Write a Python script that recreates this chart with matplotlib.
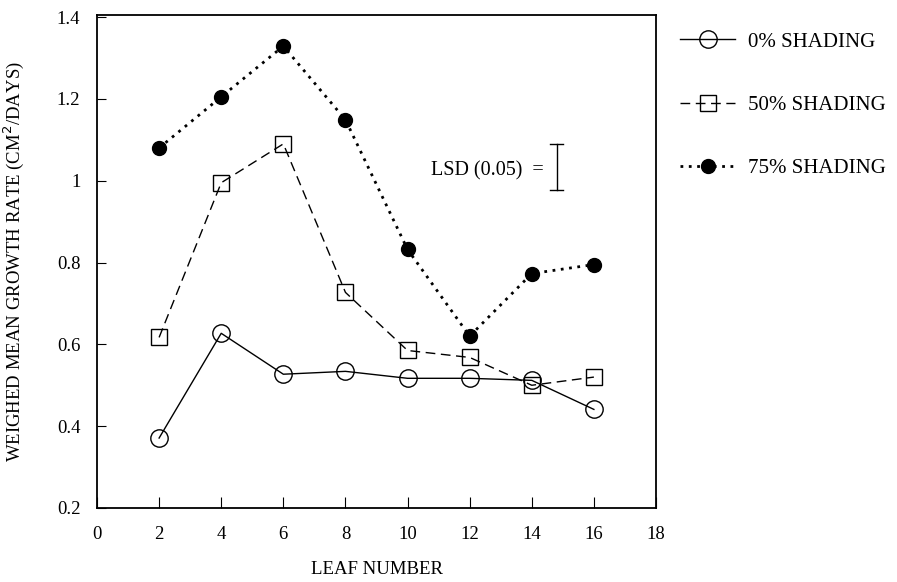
import numpy as np
import matplotlib.pyplot as plt

plt.rcParams['font.family'] = ['Liberation Serif', 'DejaVu Serif']

# Dati
leaf = [2, 4, 6, 8, 10, 12, 14, 16]
shade_0 = [0.371, 0.627, 0.527, 0.534, 0.517, 0.517, 0.512, 0.441]
shade_50 = [0.617, 0.995, 1.090, 0.727, 0.585, 0.568, 0.500, 0.520]
shade_75 = [1.080, 1.205, 1.329, 1.149, 0.832, 0.620, 0.773, 0.795]
labels = ['0% SHADING', '50% SHADING', '75% SHADING']

lsd_x = 14.8
lsd_low = 0.978
lsd_high = 1.090

xticks = list(range(0, 19, 2))
yticks = [0.2, 0.4, 0.6, 0.8, 1.0, 1.2, 1.4]
ytick_labels = ['0.2', '0.4', '0.6', '0.8', '1', '1.2', '1.4']

fig = plt.figure(figsize=(8.97, 5.82), dpi=100)
ax = fig.add_axes([97 / 897, 74 / 582, 559 / 897, 493 / 582])

ax.plot(leaf, shade_0, '-', color='black', lw=1, marker='o', ms=12.5,
        mfc='none', mec='black', mew=1, label=labels[0])
ax.plot(leaf, shade_50, color='black', lw=1, ls=(0, (7, 4)), marker='s', ms=11.5,
        mfc='none', mec='black', mew=1, label=labels[1])
ax.plot(leaf, shade_75, color='black', lw=2, ls=(0, (1, 2)), marker='o', ms=10,
        mfc='black', mec='black', label=labels[2])

# barra LSD
ax.plot([lsd_x, lsd_x], [lsd_low, lsd_high], color='black', lw=1)
ax.plot([lsd_x - 0.2, lsd_x + 0.2], [lsd_low, lsd_low], color='black', lw=1)
ax.plot([lsd_x - 0.2, lsd_x + 0.2], [lsd_high, lsd_high], color='black', lw=1)
ax.text(lsd_x - 0.4, (lsd_low + lsd_high) / 2 - 0.01, 'LSD (0.05)  =', ha='right',
        va='center', fontsize=14.5)

ax.set_xlim(0, 17.9)
ax.set_ylim(0.2, 1.405)
ax.set_xticks(xticks)
ax.set_yticks(yticks)
ax.set_yticklabels(ytick_labels)
ax.tick_params(direction='in', labelsize=13.5, top=False, right=False)
ax.tick_params(axis='x', length=8, pad=13)
ax.tick_params(axis='y', length=6.5, pad=12)
for s in ax.spines.values():
    s.set_linewidth(1.3)

ax.set_xlabel('LEAF NUMBER', fontsize=13.5)
ax.xaxis.set_label_coords(0.5, -0.108)
ax.set_ylabel('WEIGHED MEAN GROWTH RATE (CM$^2$/DAYS)', fontsize=13.5)
ax.yaxis.set_label_coords(-0.127, 0.5)

ax.legend(loc='upper left', bbox_to_anchor=(680 / 897, 1 - 32 / 582),
          bbox_transform=fig.transFigure, frameon=False, fontsize=15,
          handlelength=2.65, labelspacing=2.1, handletextpad=0.6,
          borderpad=0, borderaxespad=0)

fig.savefig('out.png', dpi=100)
